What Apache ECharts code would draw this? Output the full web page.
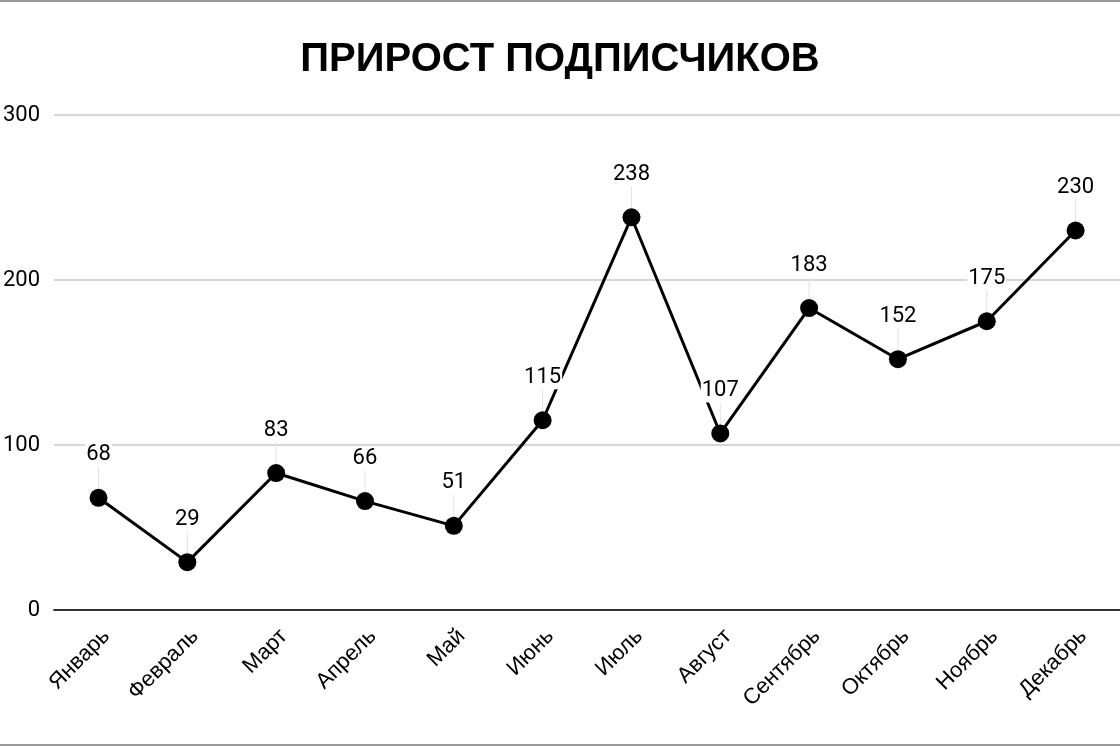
<!DOCTYPE html>
<html><head><meta charset="utf-8">
<script src="https://cdn.jsdelivr.net/npm/echarts@6/dist/echarts.min.js"></script>
<style>
html,body{margin:0;padding:0;background:#fff;}
#c{width:1120px;height:746px;}
#frame{position:absolute;left:0;top:0;width:1120px;height:746px;box-sizing:border-box;border-top:2px solid #9a9a9a;border-bottom:2px solid #9a9a9a;pointer-events:none;}
</style></head>
<body>
<div id="c"></div><div id="frame"></div>
<script>
const titleText = 'ПРИРОСТ ПОДПИСЧИКОВ';
const months = ['Январь','Февраль','Март','Апрель','Май','Июнь','Июль','Август','Сентябрь','Октябрь','Ноябрь','Декабрь'];
const subscribers = [68,29,83,66,51,115,238,107,183,152,175,230];
const yTicks = [0,100,200,300];

const chart = echarts.init(document.getElementById('c'));
chart.setOption({
  animation:false,
  backgroundColor:'#fff',
  title:{text:titleText,left:'center',top:35,textStyle:{fontFamily:'Liberation Sans',fontWeight:'bold',fontSize:40,color:'#000'}},
  grid:{left:52,width:1076,top:115,height:495,containLabel:false},
  xAxis:{type:'category',data:months,boundaryGap:true,
    axisLine:{lineStyle:{color:'#333',width:2}},axisTick:{show:false},
    axisLabel:{rotate:45,interval:0,margin:15,verticalAlign:'top',fontFamily:'Liberation Sans',fontSize:22,color:'#000'}},
  yAxis:{type:'value',min:yTicks[0],max:yTicks[yTicks.length-1],interval:100,
    axisLine:{show:false},axisTick:{show:false},
    axisLabel:{margin:14,fontFamily:'Roboto',fontSize:22,color:'#000'},
    splitLine:{lineStyle:{color:'#c8c8c8',width:1.5}}},
  series:[{type:'line',data:subscribers,symbol:'circle',symbolSize:18,
    itemStyle:{color:'#000'},lineStyle:{color:'#000',width:3},
    label:{show:true,position:'top',distance:8,fontFamily:'Roboto',fontSize:22,color:'#000',backgroundColor:'#fff',padding:[1,1]},
    labelLayout:{dy:-14},
    labelLine:{show:true,lineStyle:{color:'#e2e2e2',width:1}}
  }]
});
</script>
</body></html>
